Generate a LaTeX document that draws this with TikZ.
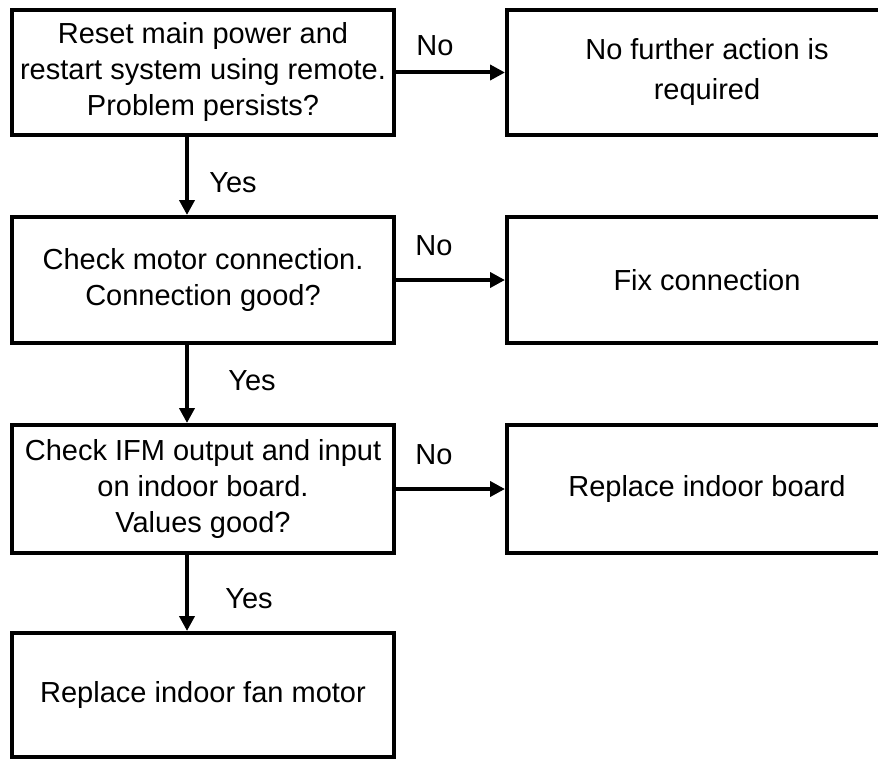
\documentclass[tikz,border=0pt]{standalone}
\usepackage{fontspec}
\setmainfont{Liberation Sans}
\usetikzlibrary{arrows.meta}

\begin{document}
\begin{tikzpicture}[
    x=1pt, y=-1pt,
    stage/.style={rectangle, draw=black, line width=4pt, minimum width=382pt, inner sep=0pt, align=center, font=\fontsize{29}{36}\selectfont},
    result/.style={stage, minimum width=400pt},
    flow/.style={-{Triangle[length=15pt,width=15pt]}, line width=4pt},
    answer/.style={inner sep=0pt, font=\fontsize{29}{36}\selectfont}
]
\useasboundingbox (0,0) rectangle (878,760);

% Checks
\node[stage, minimum height=125pt] (reset) at (203,72.5) {Reset main power and\\restart system using remote.\\Problem persists?};
\node[stage, minimum height=126pt] (motor) at (203,280) {Check motor connection.\\Connection good?};
\node[stage, minimum height=128pt] (ifm) at (203,489) {Check IFM output and input\\on indoor board.\\Values good?};
\node[stage, minimum height=124pt] (fan) at (203,695) {Replace indoor fan motor};

% Outcomes
\node[result, minimum height=125pt] (noaction) at (707,72.5) {No further action is\\[4pt]required};
\node[result, minimum height=126pt] (fixconn) at (707,280) {Fix connection};
\node[result, minimum height=128pt] (board) at (707,489) {Replace indoor board};

% Labels
\node[answer] (no1) at (435,46) {No};
\node[answer] (no2) at (434,246) {No};
\node[answer] (no3) at (434,455) {No};
\node[answer] (yes1) at (233,183) {Yes};
\node[answer] (yes2) at (252,381) {Yes};
\node[answer] (yes3) at (249,599) {Yes};

% Flow
\draw[flow] (reset.east) -- (noaction.west);
\draw[flow] (motor.east) -- (fixconn.west);
\draw[flow] (ifm.east) -- (board.west);
\draw[flow] ([xshift=-16pt]reset.south) -- ([xshift=-16pt]motor.north);
\draw[flow] ([xshift=-16pt]motor.south) -- ([xshift=-16pt]ifm.north);
\draw[flow] ([xshift=-16pt]ifm.south) -- ([xshift=-16pt]fan.north);

\end{tikzpicture}
\end{document}
